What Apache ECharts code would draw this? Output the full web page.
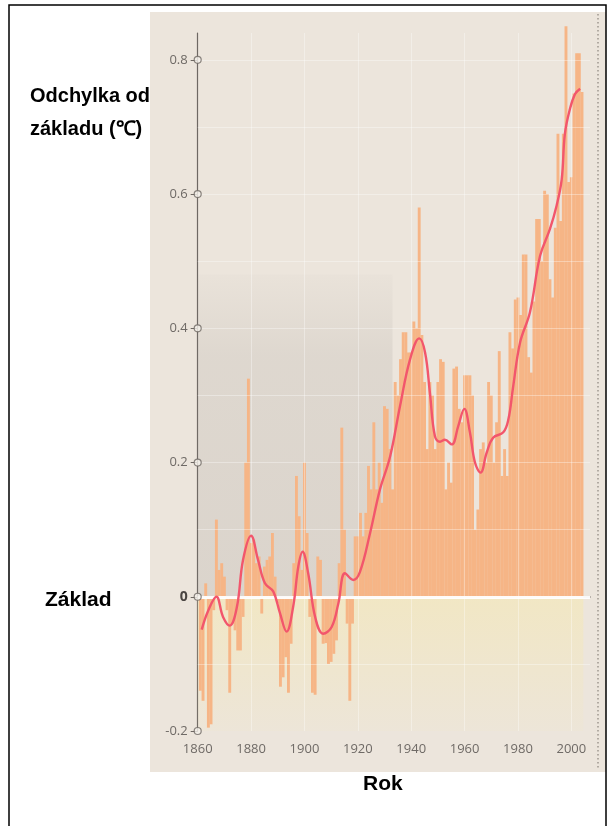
<!DOCTYPE html>
<html>
<head>
<meta charset="utf-8">
<script src="https://cdn.jsdelivr.net/npm/echarts@6/dist/echarts.min.js"></script>
<style>
html,body{margin:0;padding:0;background:#fff;}
#c{width:608px;height:826px;}
</style>
</head>
<body>
<div id="c"></div>
<script>
// ---- data ----
const startYear = 1861;
const anomalies = [
  -0.14, -0.155, 0.02, -0.195, -0.19, -0.02, 0.115, 0.04, 0.05, 0.03,   // 1861-1870
  -0.02, -0.143, -0.04, -0.05, -0.08, -0.08, -0.03, 0.2, 0.325, 0.08,    // 1871-1880
  0.085, 0.05, 0.06, -0.025, 0.045, 0.055, 0.06, 0.095, 0.03, -0.01,     // 1881-1890
  -0.134, -0.12, -0.09, -0.143, -0.07, 0.05, 0.18, 0.12, 0.04, 0.2,      // 1891-1900
  0.095, -0.03, -0.143, -0.146, 0.06, 0.055, -0.07, -0.069, -0.1, -0.097,// 1901-1910
  -0.085, -0.065, 0.05, 0.252, 0.1, -0.04, -0.155, -0.04, 0.09, 0.09,    // 1911-1920
  0.125, 0.09, 0.125, 0.195, 0.16, 0.26, 0.16, 0.2, 0.14, 0.284,         // 1921-1930
  0.28, 0.22, 0.16, 0.32, 0.3, 0.354, 0.394, 0.394, 0.364, 0.364,        // 1931-1940
  0.41, 0.4, 0.58, 0.39, 0.32, 0.22, 0.32, 0.3, 0.22, 0.32,              // 1941-1950
  0.354, 0.35, 0.16, 0.2, 0.17, 0.34, 0.343, 0.28, 0.26, 0.33,           // 1951-1960
  0.33, 0.33, 0.3, 0.1, 0.13, 0.22, 0.23, 0.2, 0.32, 0.3,                // 1961-1970
  0.2, 0.26, 0.366, 0.18, 0.22, 0.18, 0.394, 0.37, 0.443, 0.446,         // 1971-1980
  0.42, 0.51, 0.51, 0.357, 0.334, 0.44, 0.563, 0.563, 0.5, 0.605,        // 1981-1990
  0.6, 0.473, 0.446, 0.55, 0.69, 0.56, 0.69, 0.85, 0.618, 0.625,         // 1991-2000
  0.75, 0.81, 0.81, 0.752                                                // 2001-2004
];
const smoothYears  = [1861.5,1864,1867,1869.5,1872,1874.7,1877,1880,1882.6,1885.2,1888.3,1890.8,1893.3,1895.8,1897.7,1899.3,1901.4,1904,1907,1910.2,1912.7,1915.2,1918.3,1920.8,1924.6,1928.3,1932.1,1935.8,1939.6,1943,1945.2,1947,1948.9,1950.8,1952.6,1955.2,1957.6,1959.9,1962,1963.9,1966,1968.3,1970.7,1974.5,1976.4,1978.2,1980.8,1984.5,1988.3,1992,1994.5,1996.4,1997.6,1999.5,2001.4,2003.3];
const smoothValues = [-0.049,-0.02,0.0,-0.03,-0.043,-0.015,0.055,0.091,0.055,0.02,0.008,-0.024,-0.052,-0.014,0.045,0.067,0.035,-0.03,-0.055,-0.045,-0.01,0.035,0.025,0.037,0.095,0.16,0.209,0.284,0.354,0.385,0.364,0.304,0.239,0.231,0.234,0.227,0.254,0.28,0.245,0.2,0.185,0.215,0.237,0.245,0.264,0.313,0.379,0.424,0.508,0.548,0.583,0.622,0.69,0.727,0.749,0.757];
const yTicks = [-0.2, 0, 0.2, 0.4, 0.6, 0.8];
const xTicks = [1860, 1880, 1900, 1920, 1940, 1960, 1980, 2000];
const gridValues = [-0.1, 0.1, 0.2, 0.3, 0.4, 0.5, 0.6, 0.7, 0.8];

const barData = anomalies.map((v, i) => [startYear + i, v]);
const lineData = smoothYears.map((y, i) => [y, smoothValues[i]]);

const chart = echarts.init(document.getElementById('c'), null, {renderer: 'canvas'});
const axisColor = '#6e6863';
const labelColor = '#6f6a66';
const tickFont = '"Open Sans", "Noto Sans", sans-serif';
const titleFont = 'bold 20px "Liberation Sans", Arial, sans-serif';

chart.setOption({
  backgroundColor: '#ffffff',
  animation: false,
  grid: {left: 197.7, right: 18, top: 33, bottom: 95},
  xAxis: {
    type: 'value', min: 1860, max: 2007,
    axisLine: {show: true, lineStyle: {color: axisColor, width: 1.5}},
    axisTick: {show: true, inside: true, length: 4, customValues: xTicks, lineStyle: {color: axisColor, width: 1}},
    axisLabel: {customValues: xTicks, color: labelColor, fontSize: 13, fontFamily: tickFont, margin: 12,
      formatter: v => String(v)},
    splitLine: {show: false}
  },
  yAxis: {
    type: 'value', min: -0.2, max: 0.84,
    axisLine: {show: true, lineStyle: {color: axisColor, width: 1.2}},
    axisTick: {show: true, length: 7, customValues: yTicks, lineStyle: {color: axisColor, width: 1}},
    axisLabel: {
      customValues: yTicks, color: labelColor, fontSize: 13, fontFamily: tickFont, margin: 10,
      formatter: v => (v === 0 ? '{b|0}' : String(v)),
      rich: {b: {fontWeight: 'bold', color: '#4a4542', fontSize: 14, fontFamily: tickFont}}
    },
    splitLine: {show: false}
  },
  graphic: [
    {type: 'rect', z: -10, silent: true, shape: {x: 150, y: 12, width: 456, height: 760}, style: {fill: '#ece5dc'}},
    {type: 'line', z: -9, silent: true, shape: {x1: 598, y1: 14, x2: 598, y2: 770}, style: {stroke: '#8a837c', lineWidth: 1.2, lineDash: [1.5, 2.5]}},
    {type: 'rect', z: 100, silent: true, shape: {x: 9, y: 5, width: 597, height: 840}, style: {fill: 'none', stroke: '#000', lineWidth: 1.5}},
    {type: 'text', z: 100, left: 30, top: 86, style: {text: 'Odchylka od', font: titleFont, fill: '#000'}},
    {type: 'text', z: 100, left: 30, top: 119, style: {text: 'základu (℃)', font: titleFont, fill: '#000'}},
    {type: 'text', z: 100, left: 45, top: 590, style: {text: 'Základ', font: 'bold 21px "Liberation Sans", Arial, sans-serif', fill: '#000'}},
    {type: 'text', z: 100, left: 363, top: 774, style: {text: 'Rok', font: 'bold 21px "Liberation Sans", Arial, sans-serif', fill: '#000'}}
  ],
  series: [
    {
      type: 'bar', data: barData, barWidth: 2.9, z: 2, clip: false,
      itemStyle: {color: '#f6b586'},
      markArea: {
        silent: true,
        data: [
          [{coord: [1860, 0], itemStyle: {color: {type: 'linear', x: 0, y: 0, x2: 0, y2: 1, colorStops: [
            {offset: 0, color: 'rgba(150,145,140,0.03)'}, {offset: 0.25, color: 'rgba(150,145,140,0.16)'}, {offset: 1, color: 'rgba(150,145,140,0.2)'}]}}},
           {coord: [1933, 0.48]}],
          [{coord: [1860, 0], itemStyle: {color: {type: 'linear', x: 0, y: 0, x2: 0, y2: 1, colorStops: [
            {offset: 0, color: 'rgba(245,232,180,0.6)'}, {offset: 1, color: 'rgba(245,232,180,0.1)'}]}}},
           {coord: [2004.5, -0.2]}]
        ]
      },
      markLine: {
        silent: true, symbol: 'none', label: {show: false},
        lineStyle: {color: 'rgba(255,255,255,0.35)', width: 1, type: 'solid'},
        data: gridValues.map(v => ({yAxis: v}))
          .concat(xTicks.slice(1).map(x => ({xAxis: x})))
          .concat([{yAxis: 0, lineStyle: {color: 'rgba(255,255,255,0.95)', width: 3}}])
      }
    },
    {
      type: 'line', data: lineData, smooth: 0.4, showSymbol: false, z: 6,
      lineStyle: {color: '#f2566c', width: 2.4}
    },
    {
      type: 'scatter', data: yTicks.map(v => [1860, v]), z: 10, clip: false,
      symbol: 'circle', symbolSize: 7,
      itemStyle: {color: '#f4f0ea', borderColor: axisColor, borderWidth: 1.2}
    }
  ]
});
</script>
</body>
</html>
